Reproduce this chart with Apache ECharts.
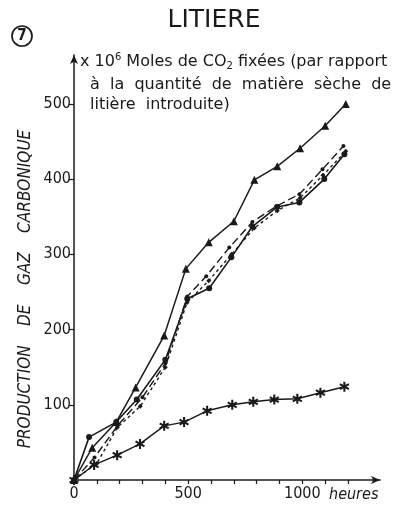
<!DOCTYPE html>
<html lang="fr">
<head>
<meta charset="utf-8" />
<title>LITIERE</title>
<style>
	html,body{margin:0;padding:0;background:#fff;}
	#chart{width:401px;height:509px;}
</style>
</head>
<body>
<div id="chart"></div>
<script src="https://cdn.jsdelivr.net/npm/echarts/dist/echarts.min.js"></script>
<script>
// données (heures / 10^6 moles de CO2)
var triHours = [0, 80, 185, 270, 395, 490, 590, 700, 790, 890, 990, 1100, 1190];
var triValues = [0, 43, 77, 123, 192, 281, 316, 344, 399, 417, 441, 471, 500];

var dotHours = [0, 66, 185, 275, 400, 496, 592, 689, 781, 890, 987, 1096, 1184];
var dotValues = [0, 57, 77, 107, 160, 241, 255, 296, 337, 363, 369, 400, 433];

var dashDotHours = [0, 90, 190, 300, 400, 496, 579, 680, 781, 886, 987, 1088, 1180];
var dashDotValues = [0, 30, 72, 110, 155, 244, 271, 309, 343, 364, 380, 413, 444];

var dashHours = [0, 100, 190, 290, 400, 495, 590, 690, 790, 890, 990, 1090, 1190];
var dashValues = [0, 22, 70, 98, 150, 236, 265, 300, 335, 358, 375, 405, 437];

var starHours = [0, 88, 189, 289, 395, 482, 583, 693, 785, 877, 978, 1079, 1184];
var starValues = [0, 20, 33, 48, 72, 77, 92, 100, 104, 107, 108, 116, 124];

var xLabels = [0, 500, 1000];
var xTicks = [100, 200, 300, 400, 500, 600, 700, 800, 900, 1000, 1100, 1200];
var yLabels = [100, 200, 300, 400, 500];

function pairs(h, v){
	return h.map(function(x, i){ return [x, v[i]]; });
}

var ink = '#1a1a1a';
var font = '"DejaVu Sans Condensed", "DejaVu Sans", sans-serif';
var wide = '"DejaVu Sans", sans-serif';
var star = 'path://M-1,-5L1,-5L1,5L-1,5Z M-3.83,-3.37L4.83,1.63L3.83,3.37L-4.83,-1.63Z M-4.83,1.63L3.83,-3.37L4.83,-1.63L-3.83,3.37Z';

var chart = echarts.init(document.getElementById('chart'));
chart.setOption({
	backgroundColor: '#fff',
	animation: false,
	textStyle: {fontFamily: font, color: ink},
	grid: {left: 74, right: 21, top: 55, bottom: 29},
	xAxis: {
		type: 'value', min: 0, max: 1340,
		splitLine: {show: false},
		axisLine: {lineStyle: {color: ink, width: 1.5}, symbol: ['none', 'arrow'], symbolSize: [6, 9]},
		axisTick: {length: 4, inside: false, lineStyle: {color: ink, width: 1.2}, customValues: xTicks},
		axisLabel: {customValues: xLabels, fontSize: 16, color: ink, margin: 6, fontFamily: font,
			formatter: function(v){ return String(v); }}
	},
	yAxis: {
		type: 'value', min: 0, max: 565,
		splitLine: {show: false},
		axisLine: {show: true, lineStyle: {color: ink, width: 1.5}, symbol: ['none', 'arrow'], symbolSize: [6, 9]},
		axisTick: {show: true, length: 5, lineStyle: {color: ink, width: 1.2}, customValues: yLabels},
		axisLabel: {customValues: yLabels, fontSize: 16, color: ink, margin: 3, fontFamily: font,
			formatter: function(v){ return String(v); }}
	},
	graphic: [
		{type: 'text', x: 214, y: 20, style: {text: 'LITIERE', font: '25px ' + wide, fill: ink, align: 'center', verticalAlign: 'middle'}},
		{type: 'circle', shape: {cx: 22, cy: 36, r: 10}, style: {fill: 'none', stroke: ink, lineWidth: 1.7}},
		{type: 'text', x: 22, y: 36, style: {text: '7', font: 'bold 15px ' + font, fill: ink, align: 'center', verticalAlign: 'middle'}},
		{type: 'text', x: 80, y: 62, style: {
			text: '{t|x 10}{s|6}{t| Moles de CO}{b|2}{t| fixées (par rapport}',
			verticalAlign: 'middle',
			rich: {
				t: {font: '16px ' + wide, fill: ink},
				s: {font: '10px ' + wide, fill: ink, padding: [0, 0, 9, 0]},
				b: {font: '10px ' + wide, fill: ink, padding: [9, 0, 0, 0]}
			}
		}},
		{type: 'text', x: 90, y: 85, style: {text: 'à  la  quantité  de  matière  sèche  de', font: '16px ' + wide, fill: ink, verticalAlign: 'middle'}},
		{type: 'text', x: 90, y: 105, style: {text: 'litière  introduite)', font: '16px ' + wide, fill: ink, verticalAlign: 'middle'}},
		// titre de l'axe vertical
		{type: 'text', x: 26, y: 289, rotation: Math.PI / 2, style: {
			text: 'PRODUCTION    DE    GAZ    CARBONIQUE', font: 'italic 17px ' + font, fill: ink,
			align: 'center', verticalAlign: 'middle'
		}},
		{type: 'text', x: 329, y: 495, style: {text: 'heures', font: 'italic 16px ' + font, fill: ink, verticalAlign: 'middle'}}
	],
	series: [
		{
			name: 'triangles', type: 'line', data: pairs(triHours, triValues),
			symbol: 'triangle', symbolSize: 8, showAllSymbol: true,
			lineStyle: {color: ink, width: 1.5}, itemStyle: {color: ink}
		},
		{
			name: 'points', type: 'line', data: pairs(dotHours, dotValues),
			symbol: 'circle', symbolSize: 6,
			lineStyle: {color: ink, width: 1.6}, itemStyle: {color: ink}
		},
		{
			name: 'tirets-points', type: 'line', data: pairs(dashDotHours, dashDotValues),
			symbol: 'circle', symbolSize: 4,
			lineStyle: {color: ink, width: 1.4, type: [8, 4]}, itemStyle: {color: ink}
		},
		{
			name: 'tirets', type: 'line', data: pairs(dashHours, dashValues),
			symbol: 'diamond', symbolSize: 5,
			lineStyle: {color: ink, width: 1.4, type: [3, 3]}, itemStyle: {color: ink}
		},
		{
			name: 'etoiles', type: 'line', data: pairs(starHours, starValues),
			symbol: star, symbolSize: [10, 10],
			lineStyle: {color: ink, width: 1.4}, itemStyle: {color: ink}
		}
	]
});
</script>
</body>
</html>
